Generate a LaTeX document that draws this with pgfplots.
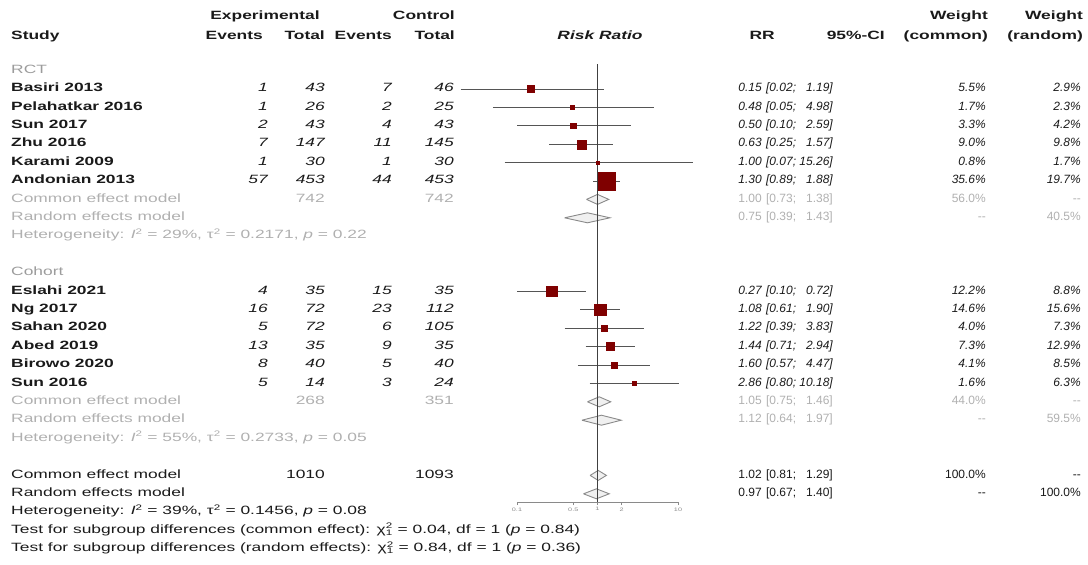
\documentclass[border=0pt]{standalone}
\usepackage{pgfplots}
\pgfplotsset{compat=1.18}
\usepackage{pgfplotstable}
\usepackage{fontspec}
\setmainfont{Liberation Sans}[FakeStretch=1.45]
\newfontfamily\nf{Liberation Sans}
\definecolor{sq}{HTML}{7F0000}
\definecolor{cil}{HTML}{555555}
\definecolor{sg}{HTML}{B0B0B0}
\definecolor{gg}{HTML}{9C9C9C}
\definecolor{tx}{HTML}{1A1A1A}
\definecolor{dg}{HTML}{8A8A8A}
\newcommand\fs{\fontsize{12}{14}\selectfont}
\newcommand\fn{\nf\fontsize{12}{14}\selectfont}
\tikzset{
  L/.style={anchor=mid west,inner sep=0pt,font=\fs,text=tx},
  R/.style={anchor=mid east,inner sep=0pt,font=\fs,text=tx},
  C/.style={anchor=mid,inner sep=0pt,font=\fs,text=tx}}
\newcommand\nm[2]{\node[L,font=\fs\bfseries] at (11pt,-#1pt) {#2};}
\newcommand\ev[5]{%
  \node[R,font=\fs\itshape] at (268pt,-#1pt) {#2};
  \node[R,font=\fs\itshape] at (325pt,-#1pt) {#3};
  \node[R,font=\fs\itshape] at (392pt,-#1pt) {#4};
  \node[R,font=\fs\itshape] at (454pt,-#1pt) {#5};}
\newcommand\res[5]{%
  \node[R,font=\fn\itshape] at (762pt,-#1pt) {#2};
  \node[R,font=\fn\itshape] at (833pt,-#1pt) {#3};
  \node[R,font=\fn\itshape] at (986pt,-#1pt) {#4};
  \node[R,font=\fn\itshape] at (1081pt,-#1pt) {#5};}
\newcommand\sres[6]{%
  \node[R,font=\fn,text=#2] at (762pt,-#1pt) {#3};
  \node[R,font=\fn,text=#2] at (833pt,-#1pt) {#4};
  \node[R,font=\fn,text=#2] at (986pt,-#1pt) {#5};
  \node[R,font=\fn,text=#2] at (1081pt,-#1pt) {#6};}
\newcommand\cil[3]{\addplot[cil,line width=0.9pt] coordinates {(#1,#3) (#2,#3)};}
\newcommand\chisq{χ\rlap{\textsuperscript{2}}\textsubscript{1}}
\newcommand\ph{\hphantom{0}}

\pgfplotstableread{
y      rr   lo   hi    w
-89.0  0.15 0.02 1.19  5.5
-107.4 0.48 0.05 4.98  1.7
-125.8 0.50 0.10 2.59  3.3
-144.2 0.63 0.25 1.57  9.0
-162.6 1.00 0.07 15.26 0.8
-181.0 1.30 0.89 1.88  35.6
-291.4 0.27 0.10 0.72  12.2
-309.8 1.08 0.61 1.90  14.6
-328.2 1.22 0.39 3.83  4.0
-346.6 1.44 0.71 2.94  7.3
-365.0 1.60 0.57 4.47  4.1
-383.4 2.86 0.80 10.18 1.6
}\studies

\begin{document}
\begin{tikzpicture}
\path[use as bounding box] (0pt,0pt) rectangle (1088pt,-565pt);
\begin{axis}[
  at={(517pt,-502pt)}, anchor=south west,
  scale only axis, width=161pt, height=442pt,
  xmode=log, xmin=0.1, xmax=10, ymin=-502, ymax=-60,
  axis x line=bottom, axis y line=none,
  axis line style={draw=dg, line width=0.9pt, -},
  xtick={0.1,0.5,1,2,10}, xticklabels={0.1,0.5,1,2,10},
  minor xtick={}, tick align=outside, major tick length=3pt,
  tick style={draw=dg, line width=0.7pt},
  xticklabel style={font=\fontsize{5}{5}\selectfont, text=dg, yshift=1pt},
  clip=false]
  % confidence intervals
  \cil{0.02}{1.19}{-89.0}
  \cil{0.05}{4.98}{-107.4}
  \cil{0.10}{2.59}{-125.8}
  \cil{0.25}{1.57}{-144.2}
  \cil{0.07}{15.26}{-162.6}
  \cil{0.89}{1.88}{-181.0}
  \cil{0.10}{0.72}{-291.4}
  \cil{0.61}{1.90}{-309.8}
  \cil{0.39}{3.83}{-328.2}
  \cil{0.71}{2.94}{-346.6}
  \cil{0.57}{4.47}{-365.0}
  \cil{0.80}{10.18}{-383.4}
  % diamonds
  \addplot[draw=dg, fill=gray!12, line width=0.9pt] coordinates {(0.73,-199.4) (1.00,-194.4) (1.38,-199.4) (1.00,-204.4) (0.73,-199.4)};
  \addplot[draw=dg, fill=gray!12, line width=0.9pt] coordinates {(0.39,-217.8) (0.75,-212.8) (1.43,-217.8) (0.75,-222.8) (0.39,-217.8)};
  \addplot[draw=dg, fill=gray!12, line width=0.9pt] coordinates {(0.75,-401.8) (1.05,-396.8) (1.46,-401.8) (1.05,-406.8) (0.75,-401.8)};
  \addplot[draw=dg, fill=gray!12, line width=0.9pt] coordinates {(0.64,-420.2) (1.12,-415.2) (1.97,-420.2) (1.12,-425.2) (0.64,-420.2)};
  \addplot[draw=dg, fill=gray!12, line width=0.9pt] coordinates {(0.81,-475.4) (1.02,-470.4) (1.29,-475.4) (1.02,-480.4) (0.81,-475.4)};
  \addplot[draw=dg, fill=gray!12, line width=0.9pt] coordinates {(0.67,-493.8) (0.97,-488.8) (1.40,-493.8) (0.97,-498.8) (0.67,-493.8)};
  % reference line
  \addplot[draw=black!75, line width=1.7pt] coordinates {(1,-64) (1,-502)};
  % squares
  \addplot[scatter, only marks, mark=square*,
    scatter/use mapped color={draw=sq, fill=sq},
    visualization depends on={1.5*sqrt(\thisrow{w}) \as \ms},
    scatter/@pre marker code/.append style={/tikz/mark size=\ms}]
    table[x=rr, y=y] {\studies};
\end{axis}

% header
\node[C,font=\fs\bfseries] at (265pt,-17pt) {Experimental};
\node[R,font=\fs\bfseries] at (455pt,-17pt) {Control};
\node[R,font=\fs\bfseries] at (988pt,-17pt) {Weight};
\node[R,font=\fs\bfseries] at (1083pt,-17pt) {Weight};
\node[L,font=\fs\bfseries] at (11pt,-37pt) {Study};
\node[R,font=\fs\bfseries] at (263pt,-37pt) {Events};
\node[R,font=\fs\bfseries] at (325pt,-37pt) {Total};
\node[R,font=\fs\bfseries] at (392pt,-37pt) {Events};
\node[R,font=\fs\bfseries] at (455pt,-37pt) {Total};
\node[C,font=\fs\bfseries\itshape] at (600pt,-37pt) {Risk Ratio};
\node[R,font=\fs\bfseries] at (775pt,-37pt) {RR};
\node[R,font=\fs\bfseries] at (885pt,-37pt) {95\%-CI};
\node[R,font=\fs\bfseries] at (988pt,-37pt) {(common)};
\node[R,font=\fs\bfseries] at (1083pt,-37pt) {(random)};

% RCT
\node[L,text=gg] at (11pt,-70.6pt) {RCT};
\nm{89.0}{Basiri 2013}       \ev{89.0}{1}{43}{7}{46}      \res{89.0}{0.15}{[0.02; \ph1.19]}{5.5\%}{2.9\%}
\nm{107.4}{Pelahatkar 2016}  \ev{107.4}{1}{26}{2}{25}     \res{107.4}{0.48}{[0.05; \ph4.98]}{1.7\%}{2.3\%}
\nm{125.8}{Sun 2017}         \ev{125.8}{2}{43}{4}{43}     \res{125.8}{0.50}{[0.10; \ph2.59]}{3.3\%}{4.2\%}
\nm{144.2}{Zhu 2016}         \ev{144.2}{7}{147}{11}{145}  \res{144.2}{0.63}{[0.25; \ph1.57]}{9.0\%}{9.8\%}
\nm{162.6}{Karami 2009}      \ev{162.6}{1}{30}{1}{30}     \res{162.6}{1.00}{[0.07; 15.26]}{0.8\%}{1.7\%}
\nm{181.0}{Andonian 2013}    \ev{181.0}{57}{453}{44}{453} \res{181.0}{1.30}{[0.89; \ph1.88]}{35.6\%}{19.7\%}
\node[L,text=sg] at (11pt,-199.4pt) {Common effect model};
\node[R,text=sg] at (325pt,-199.4pt) {742};
\node[R,text=sg] at (454pt,-199.4pt) {742};
\sres{199.4}{sg}{1.00}{[0.73; \ph1.38]}{56.0\%}{--}
\node[L,text=sg] at (11pt,-217.8pt) {Random effects model};
\sres{217.8}{sg}{0.75}{[0.39; \ph1.43]}{--}{40.5\%}
\node[L,text=sg] at (11pt,-236.2pt) {Heterogeneity: \textit{I}\textsuperscript{2} = 29\%, τ\textsuperscript{2} = 0.2171, \textit{p} = 0.22};

% Cohort
\node[L,text=gg] at (11pt,-273.0pt) {Cohort};
\nm{291.4}{Eslahi 2021}  \ev{291.4}{4}{35}{15}{35}   \res{291.4}{0.27}{[0.10; \ph0.72]}{12.2\%}{8.8\%}
\nm{309.8}{Ng 2017}      \ev{309.8}{16}{72}{23}{112} \res{309.8}{1.08}{[0.61; \ph1.90]}{14.6\%}{15.6\%}
\nm{328.2}{Sahan 2020}   \ev{328.2}{5}{72}{6}{105}   \res{328.2}{1.22}{[0.39; \ph3.83]}{4.0\%}{7.3\%}
\nm{346.6}{Abed 2019}    \ev{346.6}{13}{35}{9}{35}   \res{346.6}{1.44}{[0.71; \ph2.94]}{7.3\%}{12.9\%}
\nm{365.0}{Birowo 2020}  \ev{365.0}{8}{40}{5}{40}    \res{365.0}{1.60}{[0.57; \ph4.47]}{4.1\%}{8.5\%}
\nm{383.4}{Sun 2016}     \ev{383.4}{5}{14}{3}{24}    \res{383.4}{2.86}{[0.80; 10.18]}{1.6\%}{6.3\%}
\node[L,text=sg] at (11pt,-401.8pt) {Common effect model};
\node[R,text=sg] at (325pt,-401.8pt) {268};
\node[R,text=sg] at (454pt,-401.8pt) {351};
\sres{401.8}{sg}{1.05}{[0.75; \ph1.46]}{44.0\%}{--}
\node[L,text=sg] at (11pt,-420.2pt) {Random effects model};
\sres{420.2}{sg}{1.12}{[0.64; \ph1.97]}{--}{59.5\%}
\node[L,text=sg] at (11pt,-438.6pt) {Heterogeneity: \textit{I}\textsuperscript{2} = 55\%, τ\textsuperscript{2} = 0.2733, \textit{p} = 0.05};

% Overall
\node[L] at (11pt,-475.4pt) {Common effect model};
\node[R] at (325pt,-475.4pt) {1010};
\node[R] at (454pt,-475.4pt) {1093};
\sres{475.4}{tx}{1.02}{[0.81; \ph1.29]}{100.0\%}{--}
\node[L] at (11pt,-493.8pt) {Random effects model};
\sres{493.8}{tx}{0.97}{[0.67; \ph1.40]}{--}{100.0\%}
\node[L] at (11pt,-512.2pt) {Heterogeneity: \textit{I}\textsuperscript{2} = 39\%, τ\textsuperscript{2} = 0.1456, \textit{p} = 0.08};
\node[L] at (11pt,-530.6pt) {Test for subgroup differences (common effect): \chisq{} = 0.04, df = 1 (\textit{p} = 0.84)};
\node[L] at (11pt,-549.0pt) {Test for subgroup differences (random effects): \chisq{} = 0.84, df = 1 (\textit{p} = 0.36)};
\end{tikzpicture}
\end{document}
